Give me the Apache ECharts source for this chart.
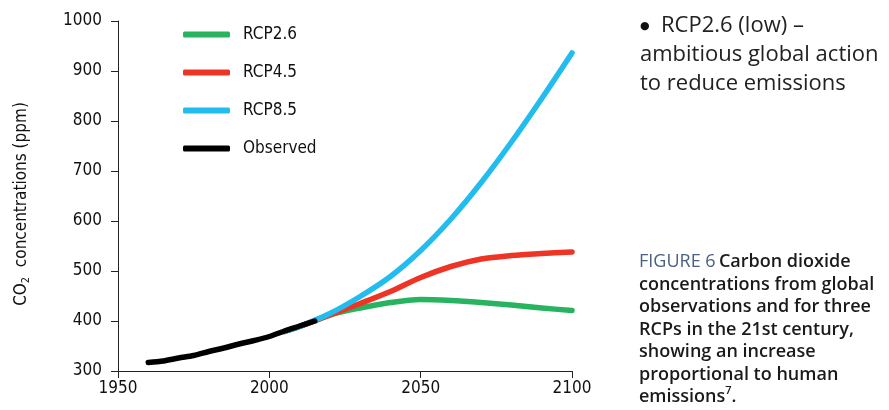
<!DOCTYPE html>
<html>
<head>
<meta charset="utf-8">
<script src="https://cdn.jsdelivr.net/npm/echarts@6/dist/echarts.min.js"></script>
<style>
  html, body { margin: 0; padding: 0; background: #fff; }
  #chart { width: 889px; height: 410px; }
</style>
</head>
<body>
<div id="chart"></div>
<script>
// observed CO2 (ppm), every 5 years
const obsYears = [1960, 1965, 1970, 1975, 1980, 1985, 1990, 1995, 2000, 2005, 2010, 2015];
const obsValues = [317, 320, 326, 331, 339, 346, 354, 361, 369, 380, 390, 400];

// scenario years and values
const rcpYears = [2005, 2010, 2020, 2030, 2040, 2050, 2060, 2070, 2080, 2090, 2100];
const rcp26 = [379, 389, 412, 426, 437, 443, 441, 437, 432, 426, 421];
const rcp45 = [379, 389, 412, 435, 459, 487, 509, 524, 531, 535, 538];
const rcp85 = [379, 389, 415, 449, 489, 541, 604, 677, 758, 845, 936];

const xTicks = [1950, 2000, 2050, 2100];
const yTicks = [300, 400, 500, 600, 700, 800, 900, 1000];

const axisFont = '"Liberation Sans Narrow", "DejaVu Sans Condensed", "Roboto", sans-serif';
const bodyFont = '"Open Sans", "Noto Sans", sans-serif';

function pairs(xs, ys) {
  return xs.map((x, i) => [x, ys[i]]);
}

function lineSeries(name, color, data) {
  return {
    name: name,
    type: 'line',
    data: data,
    showSymbol: false,
    smooth: 0.3,
    silent: true,
    lineStyle: { color: color, width: 5.5, cap: 'round', join: 'round' },
    itemStyle: { color: color }
  };
}

const chart = echarts.init(document.getElementById('chart'));
chart.setOption({
  animation: false,
  grid: { left: 118, right: 317, top: 21, bottom: 39 },
  legend: {
    orient: 'vertical',
    left: 178,
    top: 21,
    itemWidth: 47,
    itemHeight: 6,
    itemGap: 21,
    icon: 'roundRect',
    textStyle: { fontFamily: axisFont, fontSize: 17, color: '#111', padding: [0, 0, 0, 8] },
    data: ['RCP2.6', 'RCP4.5', 'RCP8.5', 'Observed']
  },
  xAxis: {
    type: 'value',
    min: xTicks[0],
    max: xTicks[xTicks.length - 1],
    interval: 50,
    splitLine: { show: false },
    axisLine: { lineStyle: { color: '#222', width: 1 } },
    axisTick: { length: 7, lineStyle: { color: '#222' } },
    axisLabel: { fontFamily: axisFont, fontSize: 17, color: '#111', margin: 9, formatter: v => String(v) }
  },
  yAxis: {
    type: 'value',
    min: yTicks[0],
    max: yTicks[yTicks.length - 1],
    interval: 100,
    splitLine: { show: false },
    axisLine: { show: true, lineStyle: { color: '#222', width: 1 } },
    axisTick: { show: true, length: 7, lineStyle: { color: '#222' } },
    axisLabel: { fontFamily: axisFont, fontSize: 17, color: '#111', margin: 16, formatter: v => String(v) },
    name: '{a|CO}{s|2}{a|  concentrations (ppm)}',
    nameLocation: 'middle',
    nameGap: 86,
    nameTextStyle: {
      padding: [0, 16, 0, 0],
      rich: {
        a: { fontFamily: axisFont, fontSize: 17, color: '#111', lineHeight: 20 },
        s: { fontFamily: axisFont, fontSize: 11, color: '#111', lineHeight: 10, verticalAlign: 'bottom' }
      }
    }
  },
  series: [
    lineSeries('RCP2.6', '#27b35f', pairs(rcpYears, rcp26)),
    lineSeries('RCP4.5', '#ee3424', pairs(rcpYears, rcp45)),
    lineSeries('RCP8.5', '#22bdee', pairs(rcpYears, rcp85)),
    lineSeries('Observed', '#000000', pairs(obsYears, obsValues))
  ],
  graphic: [
    {
      type: 'text',
      left: 640,
      top: 15,
      style: {
        text: '{b|●}{t|  RCP2.6 (low) –}\n{t|ambitious global action}\n{t|to reduce emissions}',
        rich: {
          b: { fontFamily: 'DejaVu Sans', fontSize: 11, fill: '#111', lineHeight: 29 },
          t: { fontFamily: bodyFont, fontSize: 22, fill: '#222', lineHeight: 29 }
        }
      }
    },
    {
      type: 'text',
      left: 639,
      top: 253,
      style: {
        text: '{f|FIGURE 6} {c|Carbon dioxide}\n{c|concentrations from global}\n{c|observations and for three}\n{c|RCPs in the 21st century,}\n{c|showing an increase}\n{c|proportional to human}\n{c|emissions}{p|7}{c|.}',
        rich: {
          f: { fontFamily: bodyFont, fontSize: 18, fill: '#4a6184', lineHeight: 22.5 },
          c: { fontFamily: bodyFont, fontSize: 18, fontWeight: 600, fill: '#1a1a1a', lineHeight: 22.5 },
          p: { fontFamily: bodyFont, fontSize: 11, fontWeight: 600, fill: '#1a1a1a', lineHeight: 11, verticalAlign: 'top' }
        }
      }
    }
  ]
});
</script>
</body>
</html>
